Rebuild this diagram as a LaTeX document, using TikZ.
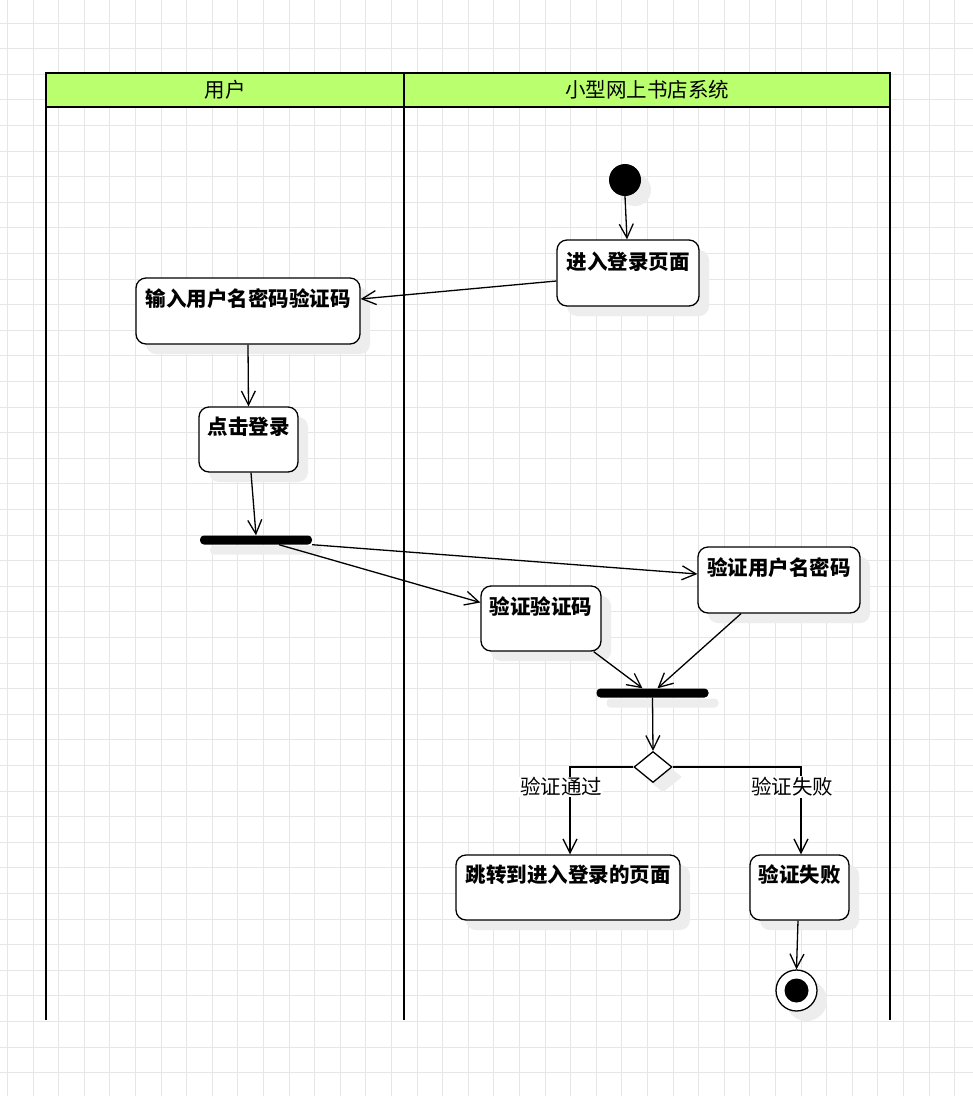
\documentclass[tikz,border=0pt]{standalone}
\usepackage{fontspec}
\setmainfont{Noto Sans CJK SC}
\usetikzlibrary{arrows.meta,shapes.geometric,shadows,calc}
\definecolor{lanegreen}{HTML}{B9FF6E}
\definecolor{gridc}{HTML}{E6E6E6}
\definecolor{shadowc}{HTML}{EDEDED}
\begin{document}
\begin{tikzpicture}[x=1pt,y=-1pt,
  gridline/.style={gridc, line width=0.9pt},
  lane/.style={line width=2.8pt},
  sh/.style={drop shadow={shadow xshift=10pt, shadow yshift=-10pt, fill=shadowc, opacity=1}},
  actbox/.style={draw, line width=1.3pt, fill=white, rounded corners=10pt, sh, inner sep=0pt},
  acttext/.style={font=\fontsize{20.5pt}{24pt}\selectfont\bfseries, anchor=center, inner sep=0pt},
  hdrtext/.style={font=\fontsize{20.5pt}{24pt}\selectfont, inner sep=0pt},
  lbl/.style={font=\fontsize{20.5pt}{24pt}\selectfont, fill=white, inner sep=1pt},
  flow/.style={line width=1.3pt, -{Straight Barb[length=14pt,width=14pt,line width=1.3pt]}},
  bar/.style={fill=black, rounded corners=4pt, inner sep=0pt, minimum width=112pt, minimum height=9pt, sh},
]
\useasboundingbox (0,0) rectangle (973,1096);
\fill[white] (0,0) rectangle (973,1096);
% grid
\foreach \i in {0,...,38} \draw[gridline] (7.4+25.6*\i,0) -- (7.4+25.6*\i,1096);
\foreach \j in {1,...,43} \draw[gridline] (0,-2.6+25.6*\j) -- (973,-2.6+25.6*\j);
% swimlanes
\draw[lane, fill=lanegreen] (46,73) rectangle (890,107);
\draw[lane] (46,73) -- (46,1020);
\draw[lane] (404,73) -- (404,1020);
\draw[lane] (890,73) -- (890,1020);
\node[hdrtext] (h1) at (225,90) {用户};
\node[hdrtext] (h2) at (647,90) {小型网上书店系统};
% nodes
\node[circle, fill=black, minimum size=32pt, inner sep=0pt, sh] (start) at (625,180) {};
\node[actbox, minimum width=142pt, minimum height=66pt,
  label={[acttext,yshift=-22pt]north:进入登录页面}] (enter) at (628,273) {};
\node[actbox, minimum width=224pt, minimum height=66pt,
  label={[acttext,yshift=-21pt]north:输入用户名密码验证码}] (input) at (248,311) {};
\node[actbox, minimum width=99pt, minimum height=65pt,
  label={[acttext,yshift=-20pt]north:点击登录}] (click) at (248.5,439.5) {};
\node[bar] (bar1) at (256,540) {};
\node[actbox, minimum width=162pt, minimum height=66pt,
  label={[acttext,yshift=-21pt]north:验证用户名密码}] (vuser) at (779,580) {};
\node[actbox, minimum width=120pt, minimum height=65pt,
  label={[acttext,yshift=-21pt]north:验证验证码}] (vcode) at (541,618.5) {};
\node[bar] (bar2) at (652.5,693) {};
\node[diamond, draw, fill=white, line width=1.3pt, minimum width=38pt, minimum height=31pt, inner sep=0pt, sh] (dia) at (653,767) {};
\node[actbox, minimum width=224pt, minimum height=65pt,
  label={[acttext,yshift=-20pt]north:跳转到进入登录的页面}] (pass) at (568,887.5) {};
\node[actbox, minimum width=99pt, minimum height=65pt,
  label={[acttext,yshift=-20pt]north:验证失败}] (fail) at (799.5,887.5) {};
\node[circle, draw, line width=1.3pt, fill=white, minimum size=41pt, inner sep=0pt, sh] (end) at (796.5,990.5) {};
\node[circle, fill=black, minimum size=24pt, inner sep=0pt] (endin) at (end) {};
% edges
\draw[flow] (start.south) -- ([xshift=-1pt]enter.north);
\draw[flow] ([yshift=-8pt]enter.west) -- ([yshift=12pt]input.east);
\draw[flow] (input.south) -- (click.north);
\draw[flow] ([xshift=2.5pt]click.south) -- (bar1.north);
\draw[flow] (bar1.south east) -- ([yshift=6pt]vuser.west);
\draw[flow] ([xshift=23pt]bar1.south) -- ([yshift=16pt]vcode.west);
\draw[flow] ([xshift=-8pt]vcode.south east) -- ([xshift=-10pt]bar2.north);
\draw[flow] ([xshift=-38pt]vuser.south) -- ([xshift=5pt]bar2.north);
\draw[flow] (bar2.south) -- (dia.north);
\draw[flow] (dia.west) -| ([xshift=2pt]pass.north);
\draw[flow] (dia.east) -| ([xshift=1.5pt]fail.north);
\draw[flow] ([xshift=-1.5pt]fail.south) -- (end.north);
% edge labels
\node[lbl] (lpass) at (561,787) {验证通过};
\node[lbl] (lfail) at (792,787) {验证失败};
\end{tikzpicture}
\end{document}
